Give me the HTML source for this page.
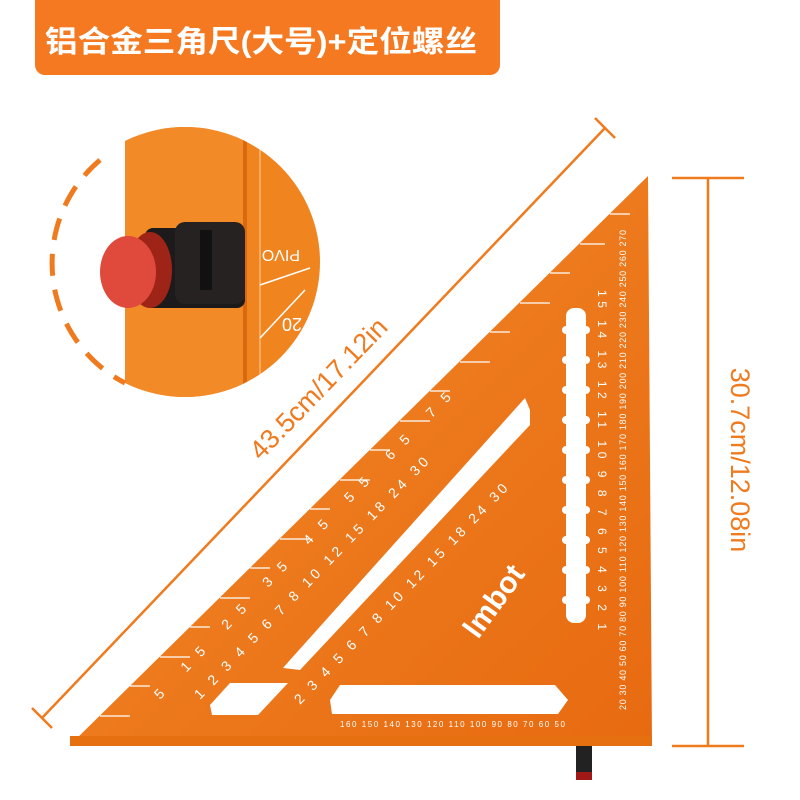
<!DOCTYPE html>
<html><head><meta charset="utf-8"><style>
html,body{margin:0;padding:0;background:#fff;width:800px;height:800px;overflow:hidden}
svg{display:block}
</style></head><body>
<svg width="800" height="800" viewBox="0 0 800 800" xmlns="http://www.w3.org/2000/svg">
<defs>
<linearGradient id="og" x1="0" y1="0" x2="1" y2="1">
<stop offset="0" stop-color="#f28a2a"/><stop offset="1" stop-color="#e86a10"/>
</linearGradient>
<clipPath id="cc"><circle cx="185" cy="262" r="135"/></clipPath>
</defs>
<!-- banner -->
<rect x="35" y="0" width="465" height="75" rx="10" fill="#f47920"/>
<rect x="35" y="0" width="465" height="20" fill="#f47920"/>
<text x="45" y="52" font-family="Liberation Sans, Noto Sans CJK SC, sans-serif" font-size="30" font-weight="bold" fill="#fff" textLength="432" lengthAdjust="spacingAndGlyphs">铝合金三角尺(大号)+定位螺丝</text>

<!-- inset circle -->
<g clip-path="url(#cc)">
<rect x="125" y="120" width="200" height="290" fill="#f0841f"/>
<rect x="125" y="120" width="120" height="290" fill="#f38a28"/>
<rect x="243" y="120" width="4" height="290" fill="#d9680e"/>
<line x1="260" y1="120" x2="260" y2="400" stroke="#ffd0a0" stroke-width="1"/>
<line x1="260" y1="285" x2="310" y2="268" stroke="#fff" stroke-width="1.5"/>
<line x1="260" y1="338" x2="305" y2="290" stroke="#fff" stroke-width="1.5"/>
<text x="0" y="0" transform="translate(300,250) rotate(180)" font-family="Liberation Sans, sans-serif" font-size="16" fill="#fff">PIVO</text>
<text x="0" y="0" transform="translate(302,318) rotate(180)" font-family="Liberation Sans, sans-serif" font-size="18" fill="#fff">20</text>
<rect x="145" y="228" width="100" height="80" rx="8" fill="#1c1a1a"/>
<rect x="175" y="222" width="70" height="82" rx="10" fill="#262222"/>
<rect x="200" y="230" width="12" height="60" fill="#111"/>
<ellipse cx="150" cy="270" rx="22" ry="38" fill="#9e2418"/>
<ellipse cx="128" cy="272" rx="28" ry="36" fill="#e04a3c"/>
</g>
<path d="M100 160 A135 135 0 0 0 125 383" fill="none" stroke="#f07a1e" stroke-width="5" stroke-dasharray="22 14"/>

<!-- dimension lines -->
<g stroke="#f07a1e" stroke-width="2.5" fill="none">
<line x1="42" y1="718" x2="605" y2="128"/>
<line x1="32" y1="708" x2="52" y2="728"/>
<line x1="595" y1="118" x2="615" y2="138"/>
<line x1="708" y1="178" x2="708" y2="746"/>
<line x1="672" y1="178" x2="744" y2="178"/>
<line x1="672" y1="746" x2="744" y2="746"/>
</g>
<text transform="translate(325,395) rotate(-46)" text-anchor="middle" font-family="Liberation Sans, sans-serif" font-size="27" fill="#f07a1e">43.5cm/17.12in</text>
<text transform="translate(731,460) rotate(90)" text-anchor="middle" font-family="Liberation Sans, sans-serif" font-size="27" fill="#f07a1e">30.7cm/12.08in</text>

<!-- triangle -->
<polygon points="70,745 648,176 652,745" fill="url(#og)"/>
<rect x="70" y="736" width="582" height="10" fill="#e6700f"/>
<!-- hypotenuse ticks -->
<g stroke="#fff" stroke-width="1.2">
<line x1="100" y1="716" x2="130" y2="716"/><line x1="130" y1="686" x2="150" y2="686"/><line x1="160" y1="657" x2="190" y2="657"/><line x1="190" y1="627" x2="210" y2="627"/><line x1="220" y1="598" x2="250" y2="598"/><line x1="250" y1="568" x2="270" y2="568"/><line x1="280" y1="539" x2="310" y2="539"/><line x1="310" y1="509" x2="330" y2="509"/><line x1="340" y1="480" x2="370" y2="480"/><line x1="370" y1="450" x2="390" y2="450"/><line x1="400" y1="421" x2="430" y2="421"/><line x1="430" y1="391" x2="450" y2="391"/><line x1="460" y1="362" x2="490" y2="362"/><line x1="490" y1="332" x2="510" y2="332"/><line x1="520" y1="303" x2="550" y2="303"/><line x1="550" y1="273" x2="570" y2="273"/><line x1="580" y1="244" x2="605" y2="244"/><line x1="610" y1="214" x2="630" y2="214"/>
</g>
<!-- slots -->
<polygon points="290,660 525,398 530,410 530,425 300,670 283,668" fill="#fff"/>
<polygon points="340,685 555,685 568,700 558,714 332,714 330,700" fill="#fff"/>
<polygon points="230,683 288,683 258,715 212,715 210,705" fill="#fff"/>
<rect x="566" y="308" width="20" height="315" rx="8" fill="#fff"/>
<g fill="#fff">
<circle cx="566" cy="330" r="4"/><circle cx="566" cy="360" r="4"/><circle cx="566" cy="390" r="4"/><circle cx="566" cy="420" r="4"/><circle cx="566" cy="450" r="4"/><circle cx="566" cy="480" r="4"/><circle cx="566" cy="510" r="4"/><circle cx="566" cy="540" r="4"/><circle cx="566" cy="570" r="4"/><circle cx="566" cy="600" r="4"/>
<circle cx="586" cy="330" r="4"/><circle cx="586" cy="360" r="4"/><circle cx="586" cy="390" r="4"/><circle cx="586" cy="420" r="4"/><circle cx="586" cy="450" r="4"/><circle cx="586" cy="480" r="4"/><circle cx="586" cy="510" r="4"/><circle cx="586" cy="540" r="4"/><circle cx="586" cy="570" r="4"/><circle cx="586" cy="600" r="4"/>
</g>
<!-- scale text -->
<g font-family="Liberation Sans, sans-serif" fill="#fff">
<text transform="translate(626,710) rotate(-90)" font-size="9" textLength="480">20 30 40 50 60 70 80 90 100 110 120 130 140 150 160 170 180 190 200 210 220 230 240 250 260 270</text>
<text x="340" y="727" font-size="8" textLength="225">160 150 140 130 120 110 100 90 80 70 60 50</text>
<text transform="translate(478,640) rotate(-54)" font-size="30" font-weight="bold">lmbot</text>
<text transform="translate(300,705) rotate(-46)" font-size="14" textLength="300">2  3  4  5  6  7  8  10  12  15  18  24 30</text>
<text transform="translate(200,700) rotate(-46)" font-size="14" textLength="330">1   2  3  4  5  6  7  8  10 12 15 18 24 30</text>
<text transform="translate(160,700) rotate(-46)" font-size="14" textLength="420">5    15    25    35    45    55    65    75</text>
<text transform="translate(598,290) rotate(90)" font-size="12" textLength="340">15 14 13 12 11 10 9 8 7 6 5 4 3 2 1</text>
</g>
<!-- bottom pin -->
<rect x="576" y="746" width="16" height="28" fill="#222"/>
<rect x="576" y="772" width="16" height="8" fill="#a01818"/>
</svg>
</body></html>
